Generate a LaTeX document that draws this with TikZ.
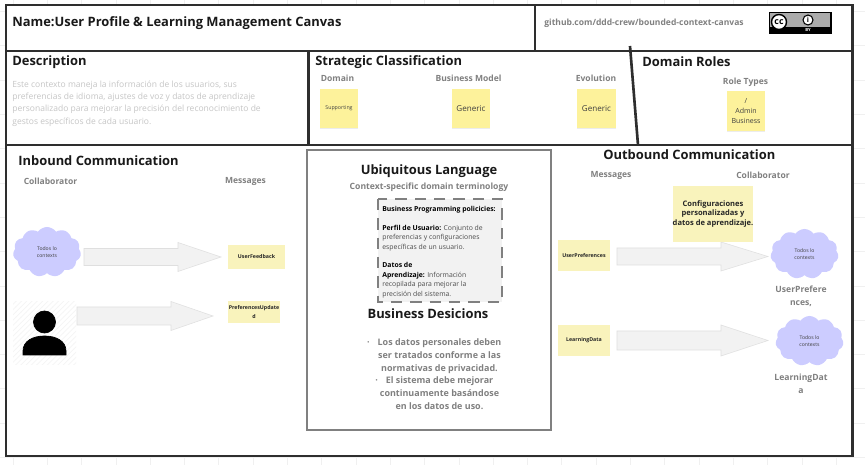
\documentclass[tikz,border=0pt]{standalone}
\usepackage{fontspec}
\setmainfont{Open Sans}
\usetikzlibrary{calc,patterns,shadows,shapes.symbols}
\definecolor{framegray}{HTML}{2E2E2E}
\definecolor{labelgray}{HTML}{808080}
\definecolor{descgray}{HTML}{C6C6C6}
\definecolor{stickyyellow}{HTML}{FDF29B}
\definecolor{msgyellow}{HTML}{F9F3BC}
\definecolor{cloudblue}{HTML}{CCCCFF}
\definecolor{arrowgray}{HTML}{F2F2F2}
\def\fsize#1#2{\fontsize{#1}{#2}\selectfont}
\def\blockarrow(#1)(#2)(#3)(#4)(#5){\draw[arrowgray!92!black,fill=arrowgray,line width=0.3pt] ($(#1)+(0,-#3)$) -- ($(#2)+(-#5,-#3)$) -- ($(#2)+(-#5,-#4)$) -- (#2) -- ($(#2)+(-#5,#4)$) -- ($(#2)+(-#5,#3)$) -- ($(#1)+(0,#3)$) -- cycle;}
\tikzset{
	heading/.style={font=\bfseries\fsize{7.35}{10},text=black!90,inner sep=0},
	sublabel/.style={font=\bfseries\fsize{4.85}{7.2},text=labelgray,inner sep=0,align=center},
	size/.style 2 args={minimum width=#1*0.02cm,minimum height=#2*0.02cm},
	sticky/.style={fill=stickyyellow,inner sep=0,align=center,font=\fsize{4}{5.6},text=black!75,drop shadow={opacity=.15,shadow xshift=0pt,shadow yshift=-0.6pt}},
	msgnote/.style={fill=msgyellow,inner sep=0,align=center,font=\bfseries\fsize{3}{5},text=black!85},
	collab/.style={cloud,cloud puffs=11,cloud puff arc=110,aspect=1.35,fill=cloudblue,inner sep=0,size={68}{50},align=center,font=\fsize{2.9}{4.4},text=black!75},
}
\begin{document}
\begin{tikzpicture}[x=0.02cm,y=-0.02cm]
	\useasboundingbox (0,0) rectangle (865,465);
	%%%%% GRID %%%%%
	\foreach \gx in {0,...,25} {\draw[black!6] ({13+\gx*34.3},0) -- ({13+\gx*34.3},465);}
	\foreach \gy in {0,...,13} {\draw[black!6] (0,{11.5+\gy*34.3}) -- (865,{11.5+\gy*34.3});}

	%%%%% FRAME %%%%%
	\draw[framegray,fill=white,line width=1.5pt] (6,5) rectangle (852.5,456);
	\draw[framegray,line width=1.5pt] (6,51) -- (852.5,51);
	\draw[framegray,line width=1.5pt] (6,145) -- (852.5,145);
	\draw[framegray,line width=1.5pt] (535,5) -- (535,51);
	\draw[framegray,line width=1.5pt] (308.5,51) -- (308.5,145);
	\draw[framegray,line width=1.5pt] (630,46) -- (638,145);

	%%%%% HEADER %%%%%
	\node[heading,anchor=west] (title) at (12,23.5) {Name:User Profile \& Learning Management Canvas};
	\node[sublabel,anchor=west] (repo) at (544,23) {github.com/ddd-crew/bounded-context-canvas};
	\draw[fill=black] (769,12) rectangle (831,33);
	\draw[fill=black!33,draw=none] (770,13) rectangle (830,27.5);
	\node[draw=black,line width=0.8pt,circle,fill=white,size={15}{15},inner sep=0,font=\bfseries\fsize{5}{5}] (ccmark) at (779,22) {cc};
	\node[draw=black,line width=0.6pt,circle,fill=white,size={10}{10},inner sep=0,font=\bfseries\fsize{4}{4}] (bymark) at (808,20) {i};
	\node[inner sep=0,text=white,font=\bfseries\fsize{2.4}{3}] (bytext) at (808,30) {BY};

	%%%%% DESCRIPTION %%%%%
	\node[heading,anchor=west] (desc) at (12,62) {Description};
	\node[anchor=north west,inner sep=0,align=left,text=descgray,font=\fsize{4.85}{6.95}] (desctext) at (12,80.5) {Este contexto maneja la información de los usuarios, sus\\preferencias de idioma, ajustes de voz y datos de aprendizaje\\personalizado para mejorar la precisión del reconocimiento de\\gestos específicos de cada usuario.};

	%%%%% CLASSIFICATION %%%%%
	\node[heading,anchor=west] (strategic) at (315,62) {Strategic Classification};
	\node[sublabel] (domain) at (337.5,78) {Domain};
	\node[sublabel] (model) at (468.5,78) {Business Model};
	\node[sublabel] (evolution) at (596,78) {Evolution};
	\node[sticky,size={38}{39},font=\fsize{3}{4.5}] (supporting) at (339,108.5) {Supporting};
	\node[sticky,size={38}{39},font=\fsize{4.6}{6}] (generica) at (471,108.5) {Generic};
	\node[sticky,size={39}{39},font=\fsize{4.6}{6}] (genericb) at (596.5,108.5) {Generic};

	\node[heading,anchor=west] (roles) at (642,62) {Domain Roles};
	\node[sublabel] (roletypes) at (745.5,82) {Role Types};
	\node[sticky,size={38}{40}] (roletype) at (746,111) {/\\Admin\\Business};

	%%%%% INBOUND %%%%%
	\node[heading,anchor=west] (inbound) at (18,161) {Inbound Communication};
	\node[sublabel] (incollab) at (50.5,181) {Collaborator};
	\node[sublabel] (inmsg) at (245.5,181) {Messages};
	\node[collab] (cloudin) at (47,252) {Todos lo\\contexts};
	\coordinate (ina) at (84,257);
	\coordinate (inb) at (221,257);
	\blockarrow(ina)(inb)(8.5)(14.5)(43)
	\node[msgnote,size={57}{24}] (feedback) at (256.5,257) {UserFeedback};

	\draw[pattern=north east lines,pattern color=black!4,draw=none] (13,302) rectangle (76,365);
	\draw[fill=black] (44.5,322) circle (11);
	\draw[fill=black] (23,355) -- (23,351) .. controls (23,341) and (33,336) .. (44.5,336) .. controls (56,336) and (66,341) .. (66,351) -- (66,355) -- cycle;
	\coordinate (inc) at (77,316);
	\coordinate (ind) at (213,316);
	\blockarrow(inc)(ind)(9)(14.5)(42)
	\node[msgnote,size={52}{22}] (prefupdated) at (254,312) {PreferencesUpdate\\d};

	%%%%% UBIQUITOUS LANGUAGE %%%%%
	\draw[labelgray,fill=white,line width=1.6pt] (307,150) rectangle (551,430);
	\node[heading] (ubiq) at (429,171) {Ubiquitous Language};
	\node[sublabel,font=\bfseries\fsize{4.9}{7}] (terminology) at (429,187) {Context-specific domain terminology};
	\draw[labelgray,fill=arrowgray,line width=1.4pt,dash pattern=on 6.5pt off 4.5pt] (378,199) rectangle (502,302);
	\node[anchor=north west,inner sep=0,align=left,text=black!70,font=\fsize{3.9}{5.35}] (policies) at (382,205.5) {\textbf{\textcolor{black}{Business Programming policicies:}}\\[5.6pt]\textbf{\textcolor{black}{Perfil de Usuario:}} Conjunto de\\preferencias y configuraciones\\específicas de un usuario.\\[5.3pt]\textbf{\textcolor{black}{Datos de}}\\\textbf{\textcolor{black}{Aprendizaje:}} Información\\recopilada para mejorar la\\precisión del sistema.};
	\node[heading] (decisions) at (428,314) {Business Desicions};
	\node[anchor=north,inner sep=0,align=center,text=labelgray,font=\bfseries\fsize{5.1}{7.25}] (decisiontext) at (439.5,338.5) {\llap{·\hspace{4.5pt}}Los datos personales deben\\ser tratados conforme a las\\normativas de privacidad.\\\llap{·\hspace{4.5pt}}El sistema debe mejorar\\continuamente basándose\\en los datos de uso.};

	%%%%% OUTBOUND %%%%%
	\node[heading,anchor=west] (outbound) at (603,155) {Outbound Communication};
	\node[sublabel] (outmsg) at (611,175) {Messages};
	\node[sublabel] (outcollab) at (763,175) {Collaborator};
	\coordinate (outa) at (617,256.5);
	\coordinate (outb) at (768,256.5);
	\blockarrow(outa)(outb)(8.5)(14.5)(47)
	\node[msgnote,size={80}{56},font=\bfseries\fsize{4.3}{5.6}] (config) at (713,214) {Configuraciones\\personalizadas y\\datos de aprendizaje.};
	\node[msgnote,size={52}{31}] (userpref) at (584,255.5) {UserPreferences};
	\node[collab] (cloudouta) at (804.5,254) {Todos lo\\contexts};
	\node[sublabel,font=\bfseries\fsize{4.9}{7.3}] (userpreflabel) at (801,296.5) {UserPrefere\\nces,};

	\coordinate (outc) at (617,340.5);
	\coordinate (outd) at (768,340.5);
	\blockarrow(outc)(outd)(9.5)(15.5)(47)
	\node[msgnote,size={52}{31}] (learning) at (584,340.5) {LearningData};
	\node[collab] (cloudoutb) at (809.5,341) {Todos lo\\contexts};
	\node[sublabel,font=\bfseries\fsize{4.9}{7.3}] (learninglabel) at (801,384) {LearningDat\\a};
\end{tikzpicture}
\end{document}
